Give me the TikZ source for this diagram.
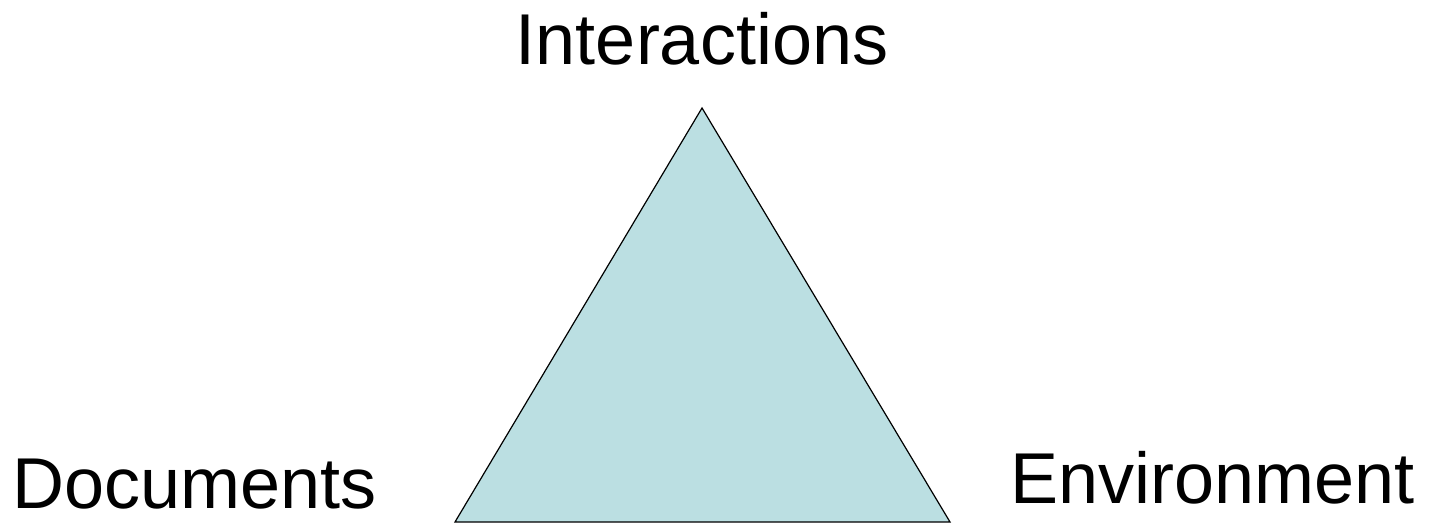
\documentclass[tikz,border=0pt]{standalone}
\usepackage{fontspec}
\setmainfont{Liberation Sans}
\definecolor{trifill}{HTML}{BBDFE2}
\begin{document}
\begin{tikzpicture}[x=1pt,y=1pt,line join=miter,
	cornerlabel/.style={inner sep=0pt,font=\fontsize{72}{80}\selectfont}]
	\useasboundingbox (0,0) rectangle (1429,525);
	
	% triangle
	\coordinate (top) at (702,417);
	\coordinate (left) at (455,3);
	\coordinate (right) at (950,3);
	\path[draw=black,fill=trifill,line width=1.2pt] (top) -- (left) -- (right) --cycle;
	
	% labels
	\node[cornerlabel,anchor=base] (inter) at (702,460) {Interactions};
	\node[cornerlabel,anchor=base west] (docs) at (12,17) {Documents};
	\node[cornerlabel,anchor=base west] (env) at (1010,22) {Environment};
\end{tikzpicture}
\end{document}
